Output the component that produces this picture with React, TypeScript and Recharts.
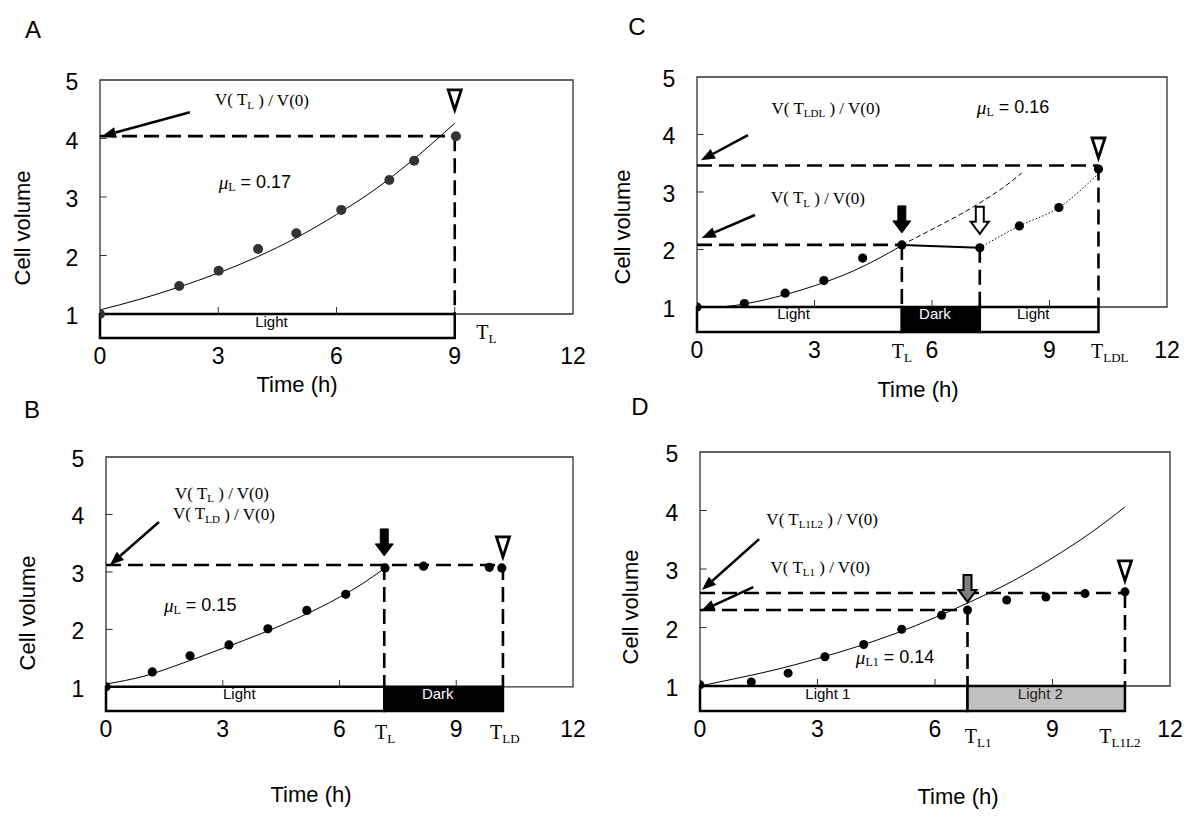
import React from 'react';
import {
  ComposedChart,
  XAxis,
  YAxis,
  Line,
  Scatter,
  ReferenceLine,
  ReferenceArea,
  ReferenceDot,
} from 'recharts';

const SANS = '"Liberation Sans", Arial, Helvetica, sans-serif';
const SERIF = '"Liberation Serif", "Times New Roman", Times, serif';

type Pt = { t: number; v: number };
type Seg = [number, number, number, number];
type Period = { from: number; to: number; name: string; tone: 'light' | 'dark' | 'grey' };
type Note = { t: number; v: number; kind: 'ratio' | 'mu'; sub: string; value?: string };
type Marker = { t: number; v: number; kind: 'tri' | 'down' | 'open' | 'grey' };
type TLabel = { at: number; sub: string };

const hourTicks = [0, 3, 6, 9, 12];
const volumeTicks = [1, 2, 3, 4, 5];
const minorHours = [3, 6, 9];
const minorVolumes = [2, 3, 4];

// A: continuous light
const aDots: Pt[] = [
  { t: 0, v: 1.0 }, { t: 2.01, v: 1.48 }, { t: 3.01, v: 1.74 }, { t: 4.01, v: 2.11 },
  { t: 4.98, v: 2.38 }, { t: 6.12, v: 2.78 }, { t: 7.34, v: 3.29 }, { t: 7.97, v: 3.62 },
  { t: 9.03, v: 4.04 },
];
const aFit: Pt[] = [
  { t: 0, v: 1.07 }, { t: 1, v: 1.25 }, { t: 2, v: 1.46 }, { t: 3, v: 1.7 }, { t: 4, v: 1.98 },
  { t: 5, v: 2.31 }, { t: 6, v: 2.7 }, { t: 7, v: 3.14 }, { t: 8, v: 3.67 }, { t: 9, v: 4.26 },
];
const aGuides: Seg[] = [[0, 4.04, 9, 4.04], [9, 4.04, 9, 1]];
const aPointers: Seg[] = [[2.28, 4.45, 0.05, 4.04]];
const aPeriods: Period[] = [{ from: 0, to: 9, name: 'Light', tone: 'light' }];
const aNotes: Note[] = [
  { t: 4.11, v: 4.66, kind: 'ratio', sub: 'L' },
  { t: 3.93, v: 3.26, kind: 'mu', sub: 'L', value: '0.17' },
];
const aMarkers: Marker[] = [{ t: 9, v: 4.3, kind: 'tri' }];
const aTLabels: TLabel[] = [{ at: 9.8, sub: 'L' }];

// B: light then dark
const bDots: Pt[] = [
  { t: 0, v: 1.0 }, { t: 1.19, v: 1.26 }, { t: 2.16, v: 1.54 }, { t: 3.16, v: 1.73 },
  { t: 4.16, v: 2.01 }, { t: 5.16, v: 2.33 }, { t: 6.16, v: 2.61 }, { t: 7.17, v: 3.07 },
  { t: 8.16, v: 3.1 }, { t: 9.85, v: 3.08 }, { t: 10.17, v: 3.07 },
];
const bFit: Pt[] = [
  { t: 0, v: 1.05 }, { t: 1, v: 1.19 }, { t: 2, v: 1.42 }, { t: 3, v: 1.67 }, { t: 4, v: 1.93 },
  { t: 5, v: 2.22 }, { t: 6, v: 2.56 }, { t: 6.6, v: 2.8 }, { t: 7.15, v: 3.06 },
];
const bGuides: Seg[] = [[0, 3.12, 10.2, 3.12], [7.15, 3.12, 7.15, 1], [10.2, 3.12, 10.2, 1]];
const bPointers: Seg[] = [[1.36, 3.87, 0.1, 3.12]];
const bPeriods: Period[] = [
  { from: 0, to: 7.15, name: 'Light', tone: 'light' },
  { from: 7.15, to: 10.2, name: 'Dark', tone: 'dark' },
];
const bNotes: Note[] = [
  { t: 2.98, v: 4.37, kind: 'ratio', sub: 'L' },
  { t: 3.03, v: 4.01, kind: 'ratio', sub: 'LD' },
  { t: 2.42, v: 2.43, kind: 'mu', sub: 'L', value: '0.15' },
];
const bMarkers: Marker[] = [
  { t: 7.15, v: 3.07, kind: 'down' },
  { t: 10.2, v: 3.07, kind: 'tri' },
];
const bTLabels: TLabel[] = [{ at: 7.17, sub: 'L' }, { at: 10.25, sub: 'LD' }];

// C: light, dark, light
const cDots: Pt[] = [
  { t: 0, v: 1.0 }, { t: 1.21, v: 1.06 }, { t: 2.25, v: 1.24 }, { t: 3.24, v: 1.46 },
  { t: 4.23, v: 1.85 }, { t: 5.23, v: 2.08 }, { t: 7.22, v: 2.03 }, { t: 8.23, v: 2.41 },
  { t: 9.24, v: 2.73 }, { t: 10.25, v: 3.4 },
];
const cFit: Pt[] = [
  { t: 0.6, v: 1.0 }, { t: 1, v: 1.03 }, { t: 2, v: 1.17 }, { t: 3, v: 1.37 }, { t: 4, v: 1.63 },
  { t: 4.6, v: 1.83 }, { t: 5.23, v: 2.07 },
];
const cProjected: Pt[] = [
  { t: 5.23, v: 2.08 }, { t: 6, v: 2.35 }, { t: 7, v: 2.72 }, { t: 8, v: 3.17 }, { t: 8.29, v: 3.33 },
];
const cDarkHold: Pt[] = [{ t: 5.23, v: 2.08 }, { t: 7.22, v: 2.03 }];
const cRecovery: Pt[] = [
  { t: 7.22, v: 2.03 }, { t: 8.23, v: 2.41 }, { t: 9.24, v: 2.73 }, { t: 10.25, v: 3.32 },
];
const cGuides: Seg[] = [
  [0, 3.46, 10.25, 3.46], [0, 2.08, 5.23, 2.08],
  [5.23, 2.08, 5.23, 1], [7.22, 2.03, 7.22, 1], [10.25, 3.46, 10.25, 1],
];
const cPointers: Seg[] = [[1.3, 3.99, 0.1, 3.55], [1.48, 2.6, 0.12, 2.2]];
const cPeriods: Period[] = [
  { from: 0, to: 5.23, name: 'Light', tone: 'light' },
  { from: 5.23, to: 7.22, name: 'Dark', tone: 'dark' },
  { from: 7.22, to: 10.25, name: 'Light', tone: 'light' },
];
const cNotes: Note[] = [
  { t: 3.29, v: 4.46, kind: 'ratio', sub: 'LDL' },
  { t: 3.09, v: 2.9, kind: 'ratio', sub: 'L' },
  { t: 8.07, v: 4.48, kind: 'mu', sub: 'L', value: '0.16' },
];
const cMarkers: Marker[] = [
  { t: 5.23, v: 2.08, kind: 'down' },
  { t: 7.22, v: 2.03, kind: 'open' },
  { t: 10.25, v: 3.4, kind: 'tri' },
];
const cTLabels: TLabel[] = [{ at: 5.23, sub: 'L' }, { at: 10.54, sub: 'LDL' }];

// D: light 1 then light 2
const dDots: Pt[] = [
  { t: 0, v: 1.02 }, { t: 1.31, v: 1.07 }, { t: 2.25, v: 1.22 }, { t: 3.19, v: 1.5 },
  { t: 4.18, v: 1.71 }, { t: 5.15, v: 1.97 }, { t: 6.17, v: 2.21 }, { t: 6.83, v: 2.3 },
  { t: 7.83, v: 2.47 }, { t: 8.83, v: 2.52 }, { t: 9.83, v: 2.58 }, { t: 10.85, v: 2.61 },
];
const dFit: Pt[] = [
  { t: 0, v: 1.0 }, { t: 1, v: 1.14 }, { t: 2, v: 1.29 }, { t: 3, v: 1.47 }, { t: 4, v: 1.67 },
  { t: 5, v: 1.9 }, { t: 6, v: 2.17 }, { t: 7, v: 2.47 }, { t: 8, v: 2.8 }, { t: 9, v: 3.19 },
  { t: 10, v: 3.63 }, { t: 10.85, v: 4.06 },
];
const dGuides: Seg[] = [
  [0, 2.59, 10.85, 2.59], [0, 2.3, 6.83, 2.3], [6.83, 2.3, 6.83, 1], [10.85, 2.59, 10.85, 1],
];
const dPointers: Seg[] = [[1.51, 3.51, 0.05, 2.64], [1.36, 2.69, 0.02, 2.28]];
const dPeriods: Period[] = [
  { from: 0, to: 6.83, name: 'Light 1', tone: 'light' },
  { from: 6.83, to: 10.85, name: 'Light 2', tone: 'grey' },
];
const dNotes: Note[] = [
  { t: 3.12, v: 3.85, kind: 'ratio', sub: 'L1L2' },
  { t: 3.07, v: 3.03, kind: 'ratio', sub: 'L1' },
  { t: 4.98, v: 1.49, kind: 'mu', sub: 'L1', value: '0.14' },
];
const dMarkers: Marker[] = [
  { t: 6.83, v: 2.3, kind: 'grey' },
  { t: 10.85, v: 2.61, kind: 'tri' },
];
const dTLabels: TLabel[] = [{ at: 7.1, sub: 'L1' }, { at: 10.72, sub: 'L1L2' }];

type Panel = {
  letter: string;
  letterAt: [number, number];
  box: { left: number; top: number; right: number; bottom: number };
  yMin: number;
  dots: Pt[];
  dotR: number;
  dotFill: string;
  curves: { data: Pt[]; width: number; dash?: string }[];
  guides: Seg[];
  pointers: Seg[];
  periods: Period[];
  notes: Note[];
  markers: Marker[];
  tLabels: TLabel[];
  tLabelDy: number;
  timeAt: [number, number];
  cellAt: [number, number];
};

const panels: Panel[] = [
  {
    letter: 'A', letterAt: [33, 30], box: { left: 100, top: 80, right: 573, bottom: 338 }, yMin: 0.59,
    dots: aDots, dotR: 5, dotFill: '#333', curves: [{ data: aFit, width: 1 }],
    guides: aGuides, pointers: aPointers, periods: aPeriods, notes: aNotes, markers: aMarkers,
    tLabels: aTLabels, tLabelDy: -24, timeAt: [197, 47], cellAt: [-77, 148],
  },
  {
    letter: 'B', letterAt: [32, 410], box: { left: 106, top: 457, right: 573, bottom: 711 }, yMin: 0.58,
    dots: bDots, dotR: 4.6, dotFill: '#000', curves: [{ data: bFit, width: 1 }],
    guides: bGuides, pointers: bPointers, periods: bPeriods, notes: bNotes, markers: bMarkers,
    tLabels: bTLabels, tLabelDy: 3, timeAt: [205, 84], cellAt: [-78, 156],
  },
  {
    letter: 'C', letterAt: [637, 27], box: { left: 697, top: 77, right: 1167, bottom: 332 }, yMin: 0.565,
    dots: cDots, dotR: 4.6, dotFill: '#000',
    curves: [
      { data: cFit, width: 1 },
      { data: cProjected, width: 1, dash: '5 3' },
      { data: cDarkHold, width: 2 },
      { data: cRecovery, width: 1, dash: '1.5 2' },
    ],
    guides: cGuides, pointers: cPointers, periods: cPeriods, notes: cNotes, markers: cMarkers,
    tLabels: cTLabels, tLabelDy: 1, timeAt: [221, 58], cellAt: [-74, 150],
  },
  {
    letter: 'D', letterAt: [640, 407], box: { left: 700, top: 452, right: 1170, bottom: 711 }, yMin: 0.573,
    dots: dDots, dotR: 4.5, dotFill: '#000', curves: [{ data: dFit, width: 1 }],
    guides: dGuides, pointers: dPointers, periods: dPeriods, notes: dNotes, markers: dMarkers,
    tLabels: dTLabels, tLabelDy: 7, timeAt: [258, 86], cellAt: [-69, 155],
  },
];

const toneFill = { light: '#fff', dark: '#000', grey: '#c0c0c0' };
const toneText = { light: '#000', dark: '#fff', grey: '#222' };
const markerGap = { tri: 11, down: 12, open: 14, grey: 8 };

const arrowLine = (p: any) => {
  const { x1, y1, x2, y2 } = p;
  const a = Math.atan2(y2 - y1, x2 - x1);
  const len = 14;
  const half = 5.5;
  const bx = x2 - len * Math.cos(a);
  const by = y2 - len * Math.sin(a);
  const s = Math.sin(a);
  const c = Math.cos(a);
  return (
    <g>
      <line x1={x1} y1={y1} x2={bx} y2={by} stroke="#000" strokeWidth={2.5} />
      <polygon
        points={`${x2},${y2} ${bx + half * s},${by - half * c} ${bx - half * s},${by + half * c}`}
        fill="#000"
      />
    </g>
  );
};

const markerShape = (kind: Marker['kind']) => (p: any) => {
  const x = p.cx;
  const y = p.cy - markerGap[kind];
  if (kind === 'tri') {
    return (
      <polygon
        points={`${x - 6.5},${y - 20} ${x + 6.5},${y - 20} ${x},${y}`}
        fill="#fff"
        stroke="#000"
        strokeWidth={2.8}
      />
    );
  }
  const fill = kind === 'down' ? '#000' : kind === 'open' ? '#fff' : '#808080';
  const pts = [
    [x - 4, y - 27], [x + 4, y - 27], [x + 4, y - 12], [x + 9, y - 12],
    [x, y], [x - 9, y - 12], [x - 4, y - 12],
  ].map((q) => q.join(',')).join(' ');
  return <polygon points={pts} fill={fill} stroke="#000" strokeWidth={kind === 'down' ? 1 : 2} />;
};

const noteShape = (n: Note) => (p: any) => {
  if (n.kind === 'ratio') {
    return (
      <text x={p.cx} y={p.cy} textAnchor="middle" dominantBaseline="central" fontFamily={SERIF} fontSize={17} fill="#000">
        V( T<tspan fontSize={11} dy={5}>{n.sub}</tspan>
        <tspan dy={-5}> ) / V(0)</tspan>
      </text>
    );
  }
  return (
    <text x={p.cx} y={p.cy} textAnchor="middle" dominantBaseline="central" fontFamily={SANS} fontSize={18} fill="#000">
      <tspan fontFamily={SERIF} fontStyle="italic" fontSize={19}>μ</tspan>
      <tspan fontFamily={SERIF} fontSize={12} dy={5}>{n.sub}</tspan>
      <tspan dy={-5}>{` = ${n.value}`}</tspan>
    </text>
  );
};

const periodText = (per: Period) => (p: any) => (
  <text x={p.cx} y={p.cy} textAnchor="middle" dominantBaseline="central" fontFamily={SANS} fontSize={15} fill={toneText[per.tone]}>
    {per.name}
  </text>
);

function PanelChart({ p }: { p: Panel }) {
  const W = p.box.right - p.box.left;
  const H = p.box.bottom - p.box.top;
  const ML = 100, MT = 60, MR = 60, MB = 80, XH = 30;
  const xt = [...hourTicks, ...p.tLabels.map((l) => l.at)].sort((a, b) => a - b);

  const xTick = (tp: any) => {
    const val = tp.payload.value;
    const tl = p.tLabels.find((l) => l.at === val);
    if (tl) {
      return (
        <text x={tp.x} y={tp.y + 18 + p.tLabelDy} textAnchor="middle" dominantBaseline="central" fontFamily={SERIF} fontSize={20} fill="#000">
          T<tspan fontSize={13} dy={6}>{tl.sub}</tspan>
        </text>
      );
    }
    return (
      <text x={tp.x} y={tp.y + 18} textAnchor="middle" dominantBaseline="central" fontFamily={SANS} fontSize={23} fill="#000">
        {val}
      </text>
    );
  };
  const yTick = (tp: any) => (
    <text x={tp.x - 28} y={tp.y + 2} textAnchor="middle" dominantBaseline="central" fontFamily={SANS} fontSize={23} fill="#000">
      {tp.payload.value}
    </text>
  );

  return (
    <>
      <div style={{ position: 'absolute', left: p.box.left - ML, top: p.box.top - MT }}>
        <ComposedChart width={W + ML + MR} height={H + MT + MB + XH} margin={{ top: MT, right: MR, bottom: MB, left: 0 }}>
          <XAxis
            type="number" dataKey="t" domain={[0, 12]} ticks={xt} interval={0} allowDataOverflow
            axisLine={false} tickLine={false} tickSize={0} tickMargin={0} height={XH} tick={xTick}
          />
          <YAxis
            type="number" dataKey="v" domain={[p.yMin, 5]} ticks={volumeTicks} interval={0} allowDataOverflow
            axisLine={false} tickLine={false} tickSize={0} tickMargin={0} width={ML} tick={yTick}
          />
          <ReferenceArea x1={0} x2={12} y1={1} y2={5} fill="none" stroke="#333" strokeWidth={1.3} ifOverflow="visible" />
          {p.periods.map((per, i) => (
            <ReferenceArea
              key={`per${i}`} x1={per.from} x2={per.to} y1={p.yMin} y2={1}
              fill={toneFill[per.tone]} fillOpacity={1} stroke="#000" strokeWidth={2.5} ifOverflow="visible"
            />
          ))}
          {minorHours.map((h) => (
            <ReferenceLine key={`mx${h}`} segment={[{ x: h, y: 1 }, { x: h, y: 1.12 }]} stroke="#333" strokeWidth={1} ifOverflow="visible" />
          ))}
          {minorVolumes.map((v) => (
            <ReferenceLine key={`my${v}`} segment={[{ x: 0, y: v }, { x: 0.17, y: v }]} stroke="#333" strokeWidth={1} ifOverflow="visible" />
          ))}
          {p.guides.map((g, i) => (
            <ReferenceLine
              key={`g${i}`} segment={[{ x: g[0], y: g[1] }, { x: g[2], y: g[3] }]}
              stroke="#000" strokeWidth={2.6} strokeDasharray="15 7" ifOverflow="visible"
            />
          ))}
          {p.curves.map((c, i) => (
            <Line
              key={`c${i}`} data={c.data} dataKey="v" type="monotone" dot={false} activeDot={false}
              stroke="#000" strokeWidth={c.width} strokeDasharray={c.dash} isAnimationActive={false}
            />
          ))}
          <Scatter
            data={p.dots} isAnimationActive={false}
            shape={(sp: any) => <circle cx={sp.cx} cy={sp.cy} r={p.dotR} fill={p.dotFill} />}
          />
          {p.pointers.map((a, i) => (
            <ReferenceLine
              key={`a${i}`} segment={[{ x: a[0], y: a[1] }, { x: a[2], y: a[3] }]}
              ifOverflow="visible" shape={arrowLine}
            />
          ))}
          {p.markers.map((m, i) => (
            <ReferenceDot key={`m${i}`} x={m.t} y={m.v} r={1} ifOverflow="visible" shape={markerShape(m.kind)} />
          ))}
          {p.notes.map((n, i) => (
            <ReferenceDot key={`n${i}`} x={n.t} y={n.v} r={1} ifOverflow="visible" shape={noteShape(n)} />
          ))}
          {p.periods.map((per, i) => (
            <ReferenceDot
              key={`pl${i}`} x={(per.from + per.to) / 2 - 0.15} y={0.88} r={1}
              ifOverflow="visible" shape={periodText(per)}
            />
          ))}
        </ComposedChart>
      </div>
      <div
        style={{
          position: 'absolute', left: p.box.left + p.timeAt[0], top: p.box.bottom + p.timeAt[1],
          transform: 'translate(-50%, -50%)', fontFamily: SANS, fontSize: 22, whiteSpace: 'nowrap',
        }}
      >
        Time (h)
      </div>
      <div
        style={{
          position: 'absolute', left: p.box.left + p.cellAt[0], top: p.box.top + p.cellAt[1],
          transform: 'translate(-50%, -50%) rotate(-90deg)', fontFamily: SANS, fontSize: 22, whiteSpace: 'nowrap',
        }}
      >
        Cell volume
      </div>
      <div
        style={{
          position: 'absolute', left: p.letterAt[0], top: p.letterAt[1],
          transform: 'translate(-50%, -50%)', fontFamily: SANS, fontSize: 24,
        }}
      >
        {p.letter}
      </div>
    </>
  );
}

export default function App() {
  return (
    <div style={{ position: 'absolute', left: 0, top: 0, width: 1200, height: 819, background: '#fff', overflow: 'hidden' }}>
      {panels.map((p) => (
        <PanelChart key={p.letter} p={p} />
      ))}
    </div>
  );
}
